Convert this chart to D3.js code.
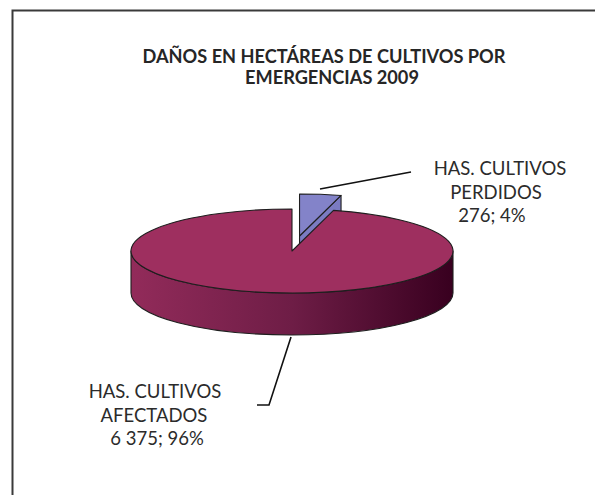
<!DOCTYPE html>
<html>
<head>
<meta charset="utf-8">
<script src="https://cdn.jsdelivr.net/npm/d3@7"></script>
<style>
  html, body { margin: 0; padding: 0; background: #fff; }
  svg { display: block; }
</style>
</head>
<body>
<svg id="chart" width="595" height="495"></svg>
<script>
// Hectares of crops damaged by emergencies, 2009
const categories = ["HAS. CULTIVOS PERDIDOS", "HAS. CULTIVOS AFECTADOS"];
const values = [276, 6375];
const percents = ["4%", "96%"];
const valueLabels = ["276", "6 375"];
const labelLines = [["HAS. CULTIVOS", "PERDIDOS"], ["HAS. CULTIVOS", "AFECTADOS"]];
const titleLines = ["DAÑOS EN HECTÁREAS DE CULTIVOS POR", "EMERGENCIAS 2009"];
const colors = ["#8383c9", "#9e2f5f"];

const svg = d3.select("#chart");
const font = "Lato, 'Open Sans', sans-serif";

// chart frame (runs off the right and bottom edges)
svg.append("rect")
  .attr("x", 12.5).attr("y", 10.5)
  .attr("width", 620).attr("height", 520)
  .attr("fill", "#fff").attr("stroke", "#3a3a3a").attr("stroke-width", 2);

// title
const title = svg.append("text")
  .attr("font-family", font).attr("font-weight", "bold")
  .attr("font-size", 18.2).attr("fill", "#262626")
  .attr("text-anchor", "middle");
title.selectAll("tspan").data(titleLines).join("tspan")
  .attr("x", (d, i) => i === 0 ? 324 : 332)
  .attr("y", (d, i) => 63 + i * 20.5)
  .text(d => d);

// 3D pie geometry
const cx = 292, cy = 251, rx = 161, ry = 42, depth = 42, explode = 0.36;

const pie = d3.pie().sort(null).value(d => d)
  .startAngle(0).endAngle(2 * Math.PI);
const arcs = pie(values);

// screen point on the rim for angle a (clockwise from 12 o'clock)
const pt = (a, ox, oy, dz = 0) => [ox + cx + rx * Math.sin(a), oy + cy - ry * Math.cos(a) + dz];

arcs.forEach((d, i) => {
  const mid = (d.startAngle + d.endAngle) / 2;
  d.ox = i === 0 ? explode * rx * Math.sin(mid) : 0;
  d.oy = i === 0 ? -explode * ry * Math.cos(mid) : 0;
});

function topPath(d) {
  const c = [cx + d.ox, cy + d.oy];
  const a = pt(d.startAngle, d.ox, d.oy), b = pt(d.endAngle, d.ox, d.oy);
  const large = (d.endAngle - d.startAngle) > Math.PI ? 1 : 0;
  return `M${c[0]},${c[1]}L${a[0]},${a[1]}A${rx},${ry} 0 ${large} 1 ${b[0]},${b[1]}Z`;
}

// outer wall: the part of the rim facing the viewer (3 o'clock to 9 o'clock)
function sidePath(d) {
  const a0 = Math.max(d.startAngle, Math.PI / 2);
  const a1 = Math.min(d.endAngle, 3 * Math.PI / 2);
  if (a1 <= a0) return null;
  const t0 = pt(a0, d.ox, d.oy), t1 = pt(a1, d.ox, d.oy);
  const b0 = pt(a0, d.ox, d.oy, depth), b1 = pt(a1, d.ox, d.oy, depth);
  const large = (a1 - a0) > Math.PI ? 1 : 0;
  return `M${t0[0]},${t0[1]}A${rx},${ry} 0 ${large} 1 ${t1[0]},${t1[1]}` +
         `L${b1[0]},${b1[1]}A${rx},${ry} 0 ${large} 0 ${b0[0]},${b0[1]}Z`;
}

// radial cut face at the end angle of a slice
function cutPath(d) {
  const c = [cx + d.ox, cy + d.oy];
  const b = pt(d.endAngle, d.ox, d.oy);
  return `M${c[0]},${c[1]}L${b[0]},${b[1]}L${b[0]},${b[1] + depth}L${c[0]},${c[1] + depth}Z`;
}

const defs = svg.append("defs");
const grad = defs.append("linearGradient").attr("id", "wall")
  .attr("gradientUnits", "userSpaceOnUse")
  .attr("x1", cx - rx).attr("x2", cx + rx).attr("y1", 0).attr("y2", 0);
grad.append("stop").attr("offset", 0).attr("stop-color", "#922b5a");
grad.append("stop").attr("offset", 0.5).attr("stop-color", "#6e1d46");
grad.append("stop").attr("offset", 1).attr("stop-color", "#38001f");

const g = svg.append("g")
  .attr("stroke", "#1e1e1e").attr("stroke-width", 1.1).attr("stroke-linejoin", "round");

const small = arcs[0], big = arcs[1];

g.append("path").attr("d", cutPath(small)).attr("fill", "#7b7bc2");
g.append("path").attr("d", topPath(small)).attr("fill", colors[0]);
g.append("path").attr("d", sidePath(big)).attr("fill", "url(#wall)");
g.append("path").attr("d", topPath(big)).attr("fill", colors[1]);

// leader lines
const leaders = [
  [[320, 189], [411, 172]],
  [[291, 337], [269, 405], [257, 405]]
];
svg.selectAll("path.leader").data(leaders).join("path")
  .attr("class", "leader")
  .attr("d", d => d3.line()(d))
  .attr("fill", "none").attr("stroke", "#111").attr("stroke-width", 1.6);

// data labels
const labelPos = [
  { x: [500, 496, 492], y: 175 },
  { x: [155, 154, 157], y: 398 }
];
arcs.forEach((d, i) => {
  const lines = [...labelLines[i], `${valueLabels[i]}; ${percents[i]}`];
  const t = svg.append("text")
    .attr("font-family", font).attr("font-size", 18.5)
    .attr("fill", "#2b2b2b").attr("text-anchor", "middle");
  t.selectAll("tspan").data(lines).join("tspan")
    .attr("x", (s, k) => labelPos[i].x[k])
    .attr("y", (s, k) => labelPos[i].y + k * 23.5)
    .text(s => s);
});
</script>
</body>
</html>
